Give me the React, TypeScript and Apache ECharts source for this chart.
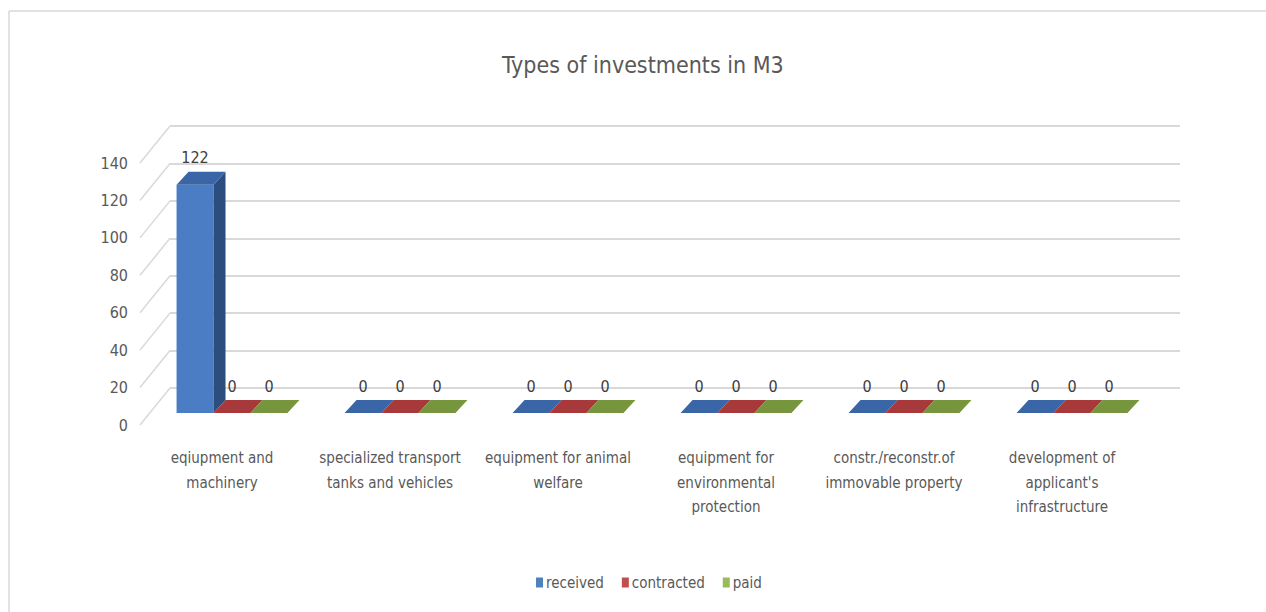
import React, { useEffect, useRef } from "react";
import * as echarts from "echarts";

const categories = [
  "eqiupment and\nmachinery",
  "specialized transport\ntanks and vehicles",
  "equipment for animal\nwelfare",
  "equipment for\nenvironmental\nprotection",
  "constr./reconstr.of\nimmovable property",
  "development of\napplicant's\ninfrastructure",
];
const seriesNames = ["received", "contracted", "paid"];
const received = [122, 0, 0, 0, 0, 0];
const contracted = [0, 0, 0, 0, 0, 0];
const paid = [0, 0, 0, 0, 0, 0];
const yTicks = [0, 20, 40, 60, 80, 100, 120, 140];
const Y_MIN = 0;
const Y_MAX = 140;
const Y_INTERVAL = 20;

const FONT = "'DejaVu Sans Condensed', 'Liberation Sans Narrow', sans-serif";
const TEXT = "#595959";

// colours: [front, side, top]
const palettes = [
  ["#4A7DC4", "#2C4E7E", "#3A65A6"],
  ["#C0504D", "#8A2E2C", "#A8393A"],
  ["#9BBB59", "#6A8435", "#77953C"],
];
const legendColors = ["#4F81BD", "#C0504D", "#9BBB59"];

const OX = 10; // bar plane offset from front plane
const OY = -12;
const DX = 12; // bar depth
const DY = -13;
const BACK_DX = 32;
const BACK_DY = -37;

function makeBarRender(i: number) {
  const [front, side, top] = palettes[i];
  return (params: any, api: any) => {
    const xi = api.value(0);
    const v = api.value(1);
    const base = api.coord([xi, 0]);
    const tp = api.coord([xi, v]);
    const band = api.size([1, 0])[0];
    const w = band * 0.22;
    const L = base[0] - 1.5 * w + i * w + OX;
    const y0 = base[1] + OY;
    const yt = tp[1] + OY;
    const children: any[] = [];
    if (y0 - yt > 0.5) {
      children.push({
        type: "rect",
        shape: { x: L, y: yt, width: w, height: y0 - yt },
        style: { fill: front },
      });
      children.push({
        type: "polygon",
        shape: {
          points: [
            [L + w, y0],
            [L + w + DX, y0 + DY],
            [L + w + DX, yt + DY],
            [L + w, yt],
          ],
        },
        style: { fill: side },
      });
    }
    children.push({
      type: "polygon",
      shape: {
        points: [
          [L, yt],
          [L + DX, yt + DY],
          [L + w + DX, yt + DY],
          [L + w, yt],
        ],
      },
      style: { fill: top },
    });
    children.push({
      type: "text",
      z2: 100,
      style: {
        x: L + w / 2,
        y: yt + DY - 6,
        text: String(v),
        fill: "#404040",
        font: `16px ${FONT}`,
        align: "center",
        verticalAlign: "bottom",
      },
    });
    return { type: "group", children };
  };
}

export default function App() {
  const ref = useRef<HTMLDivElement>(null);
  useEffect(() => {
    document.body.style.margin = "0";
    const chart = echarts.init(ref.current!, null, { renderer: "svg" });
    const values = [received, contracted, paid];
    const option: any = {
      animation: false,
      backgroundColor: "#ffffff",
      title: {
        text: "Types of investments in M3",
        left: 497,
        top: 48,
        textStyle: { fontFamily: FONT, fontSize: 23, fontWeight: "normal", color: TEXT },
      },
      legend: {
        data: seriesNames,
        left: 531,
        top: 570,
        icon: "rect",
        itemWidth: 7,
        itemHeight: 10,
        itemGap: 18,
        textStyle: { fontFamily: FONT, fontSize: 15, color: TEXT, padding: [0, 0, 0, -2] },
      },
      graphic: [
        { type: "line", shape: { x1: 9, y1: 11, x2: 1266, y2: 11 }, style: { stroke: "#d9d9d9", lineWidth: 1.5 } },
        { type: "line", shape: { x1: 9, y1: 11, x2: 9, y2: 612 }, style: { stroke: "#d9d9d9", lineWidth: 1.5 } },
      ],
      grid: [
        { left: 138, right: 120, top: 163, bottom: 187 },
        { left: 170, right: 86, top: 126, bottom: 224 },
      ],
      xAxis: [
        {
          type: "category",
          gridIndex: 0,
          data: categories,
          axisLine: { show: false },
          axisTick: { show: false },
          axisLabel: {
            interval: 0,
            margin: 21,
            fontFamily: FONT,
            fontSize: 15,
            lineHeight: 24.5,
            color: TEXT,
          },
        },
        {
          type: "category",
          gridIndex: 1,
          data: categories,
          show: false,
        },
      ],
      yAxis: [
        {
          type: "value",
          gridIndex: 0,
          min: Y_MIN,
          max: Y_MAX,
          interval: Y_INTERVAL,
          axisLine: { show: false },
          axisTick: { show: false },
          splitLine: { show: false },
          axisLabel: { margin: 10, fontFamily: FONT, fontSize: 16, color: TEXT },
        },
        {
          type: "value",
          gridIndex: 1,
          min: Y_MIN,
          max: Y_MAX,
          interval: Y_INTERVAL,
          axisLine: { show: false },
          axisTick: { show: false },
          axisLabel: { show: false },
          splitLine: { show: true, lineStyle: { color: "#d9d9d9", width: 2 } },
        },
      ],
      series: [
        ...seriesNames.map((name, i) => ({
          name,
          type: "custom",
          xAxisIndex: 0,
          yAxisIndex: 0,
          itemStyle: { color: legendColors[i] },
          encode: { x: 0, y: 1 },
          data: values[i].map((v, k) => [k, v]),
          renderItem: makeBarRender(i),
        })),
        {
          name: "depth",
          type: "custom",
          xAxisIndex: 0,
          yAxisIndex: 0,
          silent: true,
          z: 1,
          encode: { x: 0, y: 1 },
          data: yTicks.map((t) => [0, t]),
          renderItem: (params: any, api: any) => {
            const p = api.coord([0, api.value(1)]);
            const x0 = params.coordSys.x + 2;
            return {
              type: "line",
              shape: { x1: x0, y1: p[1], x2: x0 + BACK_DX - 2, y2: p[1] + BACK_DY },
              style: { stroke: "#d9d9d9", lineWidth: 1.5 },
            };
          },
        },
      ],
    };
    chart.setOption(option);
    return () => chart.dispose();
  }, []);
  return <div ref={ref} style={{ width: 1266, height: 612 }} />;
}
